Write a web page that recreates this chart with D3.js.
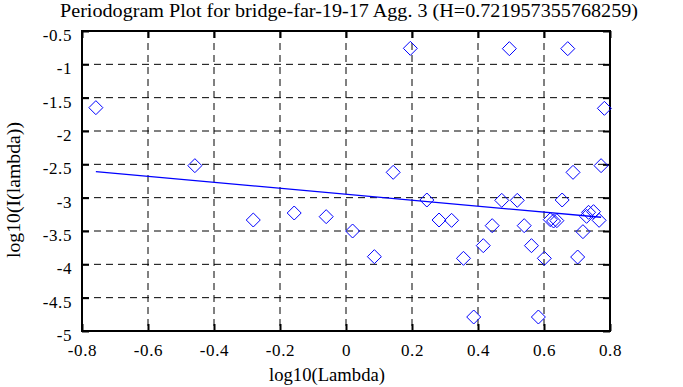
<!DOCTYPE html>
<html><head><meta charset="utf-8">
<script src="https://cdn.jsdelivr.net/npm/d3@7"></script>
<style>body{margin:0;background:#fff}svg{display:block}text{font-family:"Liberation Serif","Times New Roman",serif;fill:#000}</style>
</head><body><svg id="c" width="683" height="387"></svg>
<script>
const title = "Periodogram Plot for bridge-far-19-17 Agg. 3 (H=0.721957355768259)";
const xLabel = "log10(Lambda)";
const yLabel = "log10(I(lambda))";
const xTicks = [-0.8, -0.6, -0.4, -0.2, 0, 0.2, 0.4, 0.6, 0.8];
const yTicks = [-0.5, -1, -1.5, -2, -2.5, -3, -3.5, -4, -4.5, -5];
const ptX = [-0.758, -0.458, -0.281, -0.157, -0.060, 0.020, 0.086, 0.143, 0.195, 0.245, 0.282, 0.320,
  0.356, 0.387, 0.416, 0.443, 0.472, 0.495, 0.519, 0.540, 0.562, 0.583, 0.601, 0.619, 0.629, 0.639,
  0.655, 0.672, 0.688, 0.702, 0.718, 0.729, 0.735, 0.750, 0.767, 0.773, 0.783];
const ptY = [-1.65, -2.52, -3.335, -3.23, -3.285, -3.50, -3.885, -2.62, -0.76, -3.035, -3.335, -3.34,
  -3.91, -4.79, -3.72, -3.42, -3.04, -0.765, -3.04, -3.42, -3.72, -4.79, -3.91, -3.33, -3.35, -3.345,
  -3.035, -0.765, -2.62, -3.89, -3.51, -3.28, -3.22, -3.21, -3.34, -2.52, -1.66];
const fitX = [-0.758, 0.773];
const fitY = [-2.61, -3.294];

const svg = d3.select("#c");
const L = 82, R = 610, T = 31, B = 331;
const x = d3.scaleLinear().domain([-0.8, 0.8]).range([L, R]);
const y = d3.scaleLinear().domain([-5, -0.5]).range([B, T]);
const FONT = '"Liberation Serif","Times New Roman",serif';

// grid
const g = svg.append("g");
g.selectAll(".gx").data(xTicks.slice(1, -1)).join("line")
  .attr("x1", d => x(d)).attr("x2", d => x(d)).attr("y1", T).attr("y2", B)
  .attr("stroke", "#000").attr("stroke-width", 1).attr("stroke-dasharray", "7,5");
g.selectAll(".gy").data(yTicks.slice(1, -1)).join("line")
  .attr("y1", d => y(d)).attr("y2", d => y(d)).attr("x1", L).attr("x2", R)
  .attr("stroke", "#000").attr("stroke-width", 1).attr("stroke-dasharray", "7,5");

// axes with inward ticks
const tl = 7;
const axB = svg.append("g").attr("transform", `translate(0,${B})`)
  .call(d3.axisBottom(x).tickValues(xTicks).tickSize(-tl).tickPadding(0).tickFormat(d => String(d)));
const axT = svg.append("g").attr("transform", `translate(0,${T})`)
  .call(d3.axisTop(x).tickValues(xTicks).tickSize(-tl).tickFormat(""));
const axL = svg.append("g").attr("transform", `translate(${L},0)`)
  .call(d3.axisLeft(y).tickValues(yTicks).tickSize(-tl).tickPadding(0).tickFormat(d => String(d)));
const axR = svg.append("g").attr("transform", `translate(${R},0)`)
  .call(d3.axisRight(y).tickValues(yTicks).tickSize(-tl).tickFormat(""));
[axB, axT, axL, axR].forEach(a => {
  a.attr("font-family", FONT).attr("font-size", 17);
  a.select(".domain").remove();
  a.selectAll(".tick line").attr("stroke", "#000").attr("stroke-width", 2);
  a.selectAll("text").attr("fill", "#000").style("letter-spacing", "0.6px");
});
axB.selectAll("text").attr("y", 25).attr("dy", null);
axL.selectAll("text").attr("x", -10).attr("dy", "0.55em");

svg.append("rect").attr("x", L).attr("y", T).attr("width", R - L).attr("height", B - T)
  .attr("fill", "none").attr("stroke", "#000").attr("stroke-width", 2);

// fit line
svg.append("path").datum(fitX.map((d, i) => [d, fitY[i]]))
  .attr("d", d3.line().x(d => x(d[0])).y(d => y(d[1])))
  .attr("stroke", "#0000ff").attr("stroke-width", 1.3).attr("fill", "none");

// diamonds
const s = 7;
svg.selectAll(".pt").data(ptX.map((d, i) => [d, ptY[i]])).join("path")
  .attr("d", d => { const cx = x(d[0]), cy = y(d[1]); return `M${cx},${cy - s}L${cx + s},${cy}L${cx},${cy + s}L${cx - s},${cy}Z`; })
  .attr("fill", "none").attr("stroke", "#0000ff").attr("stroke-width", 1);

// labels
svg.append("text").attr("x", 349).attr("y", 17).attr("text-anchor", "middle").style("font-size", "18px")
  .attr("textLength", 578).attr("lengthAdjust", "spacingAndGlyphs").text(title);
svg.append("text").attr("x", 327).attr("y", 381).attr("text-anchor", "middle").style("font-size", "18px")
  .attr("textLength", 116).attr("lengthAdjust", "spacingAndGlyphs").text(xLabel);
svg.append("text").attr("transform", "translate(20,190) rotate(-90)").attr("text-anchor", "middle").style("font-size", "18px")
  .attr("textLength", 136).attr("lengthAdjust", "spacingAndGlyphs").text(yLabel);
</script></body></html>
